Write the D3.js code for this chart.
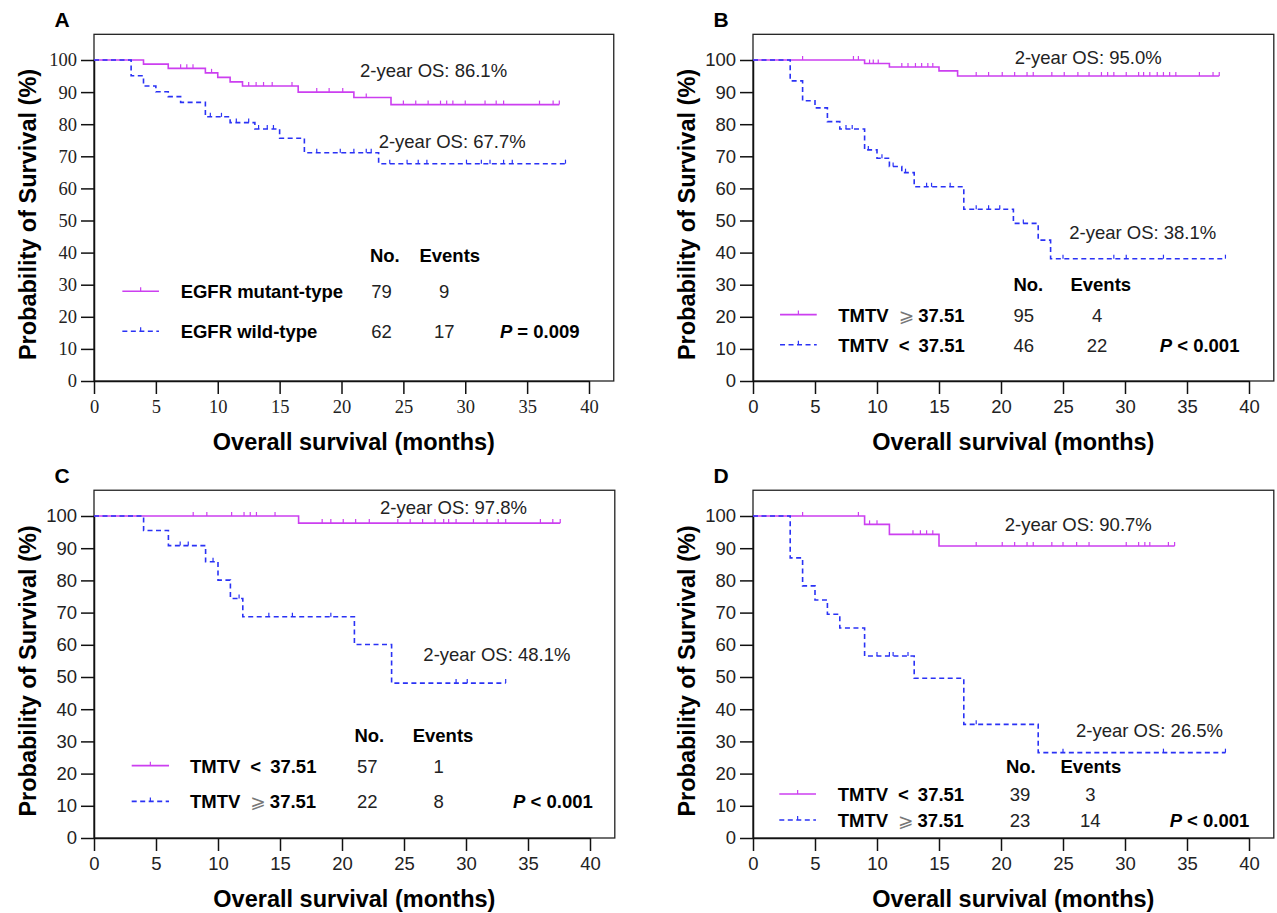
<!DOCTYPE html>
<html lang="en">
<head>
<meta charset="UTF-8">
<title>Overall survival by EGFR status and TMTV</title>
<script src="https://d3js.org/d3.v7.min.js"></script>
<style>
    body {
        margin: 0;
        background: #fff;
        font-family: "Liberation Sans", Arial, sans-serif;
    }
    .axis path, .axis line {
        stroke: #111;
        stroke-width: 1.5px;
    }
    .frame {
        fill: none;
        stroke: #222;
        stroke-width: 1.3px;
    }
</style>
</head>
<body>
<svg id="chart" width="1277" height="913"></svg>
<script>
// axis ticks
const xTicks = [0, 5, 10, 15, 20, 25, 30, 35, 40];
const yTicks = [0, 10, 20, 30, 40, 50, 60, 70, 80, 90, 100];

// Panel A: EGFR mutant-type (magenta) / wild-type (blue)
const aMutTime = [4, 6, 9, 10, 11, 12, 16.5, 21, 24];
const aMutSurv = [98.7, 97.4, 96.0, 94.6, 93.2, 91.9, 90.0, 88.3, 86.1];
const aMutCens = [7, 7.5, 8, 9.5, 12.5, 13.1, 13.7, 14.4, 16, 18, 19, 20.1, 22, 25, 26, 27, 28, 28.5, 29, 30, 31.6, 32.5, 33.1, 36, 37.1, 37.6];
const aWildTime = [3, 4, 5, 6, 7, 9, 11, 13, 15, 17, 23];
const aWildSurv = [95.1, 91.9, 90.1, 88.6, 86.8, 82.3, 80.5, 78.5, 75.6, 71.1, 67.7];
const aWildCens = [9.4, 10.3, 11.5, 12.5, 13.3, 14, 14.5, 18, 19.9, 21, 22, 22.4, 23.9, 25.3, 26.2, 26.9, 30.1, 31.3, 32, 33.1, 33.8, 38.1];

// Panel B: TMTV >= 37.51 (magenta) / < 37.51 (blue)
const bHighTime = [9, 11, 15, 16.5];
const bHighSurv = [98.9, 97.8, 96.6, 95.0];
const bHighCens = [4, 8.1, 8.5, 9.4, 9.7, 10.1, 12, 12.5, 13.1, 13.6, 14.1, 14.5, 18, 19, 20.1, 21.1, 22.1, 22.6, 24.1, 25.1, 26.2, 27.1, 28.1, 28.6, 29.1, 30.1, 31.1, 31.5, 32, 32.6, 33.1, 33.6, 34.1, 36, 37.1, 37.6];
const bLowTime = [3, 4, 5, 6, 7, 9, 10, 11, 12, 13, 17, 21, 23, 24];
const bLowSurv = [93.5, 87.3, 85.1, 80.8, 78.5, 72.0, 69.4, 66.8, 64.9, 60.5, 53.5, 49.1, 43.9, 38.1];
const bLowCens = [7.5, 8, 9.3, 10.4, 11.3, 12.3, 14, 14.4, 15.9, 18, 19, 19.9, 21.8, 25, 29.1, 30.1, 33.1, 38.1];

// Panel C
const cLowTime = [16.5];
const cLowSurv = [97.8];
const cLowCens = [8, 9.1, 11.1, 12.1, 12.6, 13.1, 14.6, 18.4, 19.1, 20.1, 21.1, 22.2, 24.5, 25.5, 26.5, 27.5, 28.2, 28.6, 29.2, 30.6, 31.7, 32.6, 33.2, 36, 37, 37.6];
const cHighTime = [4, 6, 9, 10, 11, 12, 21, 24];
const cHighSurv = [95.5, 90.8, 85.8, 80.1, 74.4, 68.7, 60.1, 48.1];
const cHighCens = [6.95, 7.6, 9.6, 11.7, 14.1, 16, 19.1, 29.2, 30.1, 33.2];

// Panel D
const dLowTime = [9, 11, 15];
const dLowSurv = [97.4, 94.3, 90.7];
const dLowCens = [4, 8.5, 9.4, 10, 12.9, 13.5, 14, 14.5, 18, 20.1, 21.1, 22.1, 22.6, 24.1, 25, 26.1, 27.1, 30.1, 31.1, 31.6, 32, 33.5, 34];
const dHighTime = [3, 4, 5, 6, 7, 9, 13, 17, 23];
const dHighSurv = [87.0, 78.3, 73.9, 69.5, 65.2, 56.5, 49.6, 35.3, 26.5];
const dHighCens = [10, 11, 11.3, 12.5, 18, 25, 33.1, 38.1];

// legend tables
const groupLabels = [["EGFR mutant-type", "EGFR wild-type"], ["TMTV ⩾ 37.51", "TMTV < 37.51"], ["TMTV < 37.51", "TMTV ⩾ 37.51"], ["TMTV < 37.51", "TMTV ⩾ 37.51"]];
const groupN = [[79, 62], [95, 46], [57, 22], [39, 23]];
const groupEvents = [[9, 17], [4, 22], [1, 8], [3, 14]];
const pValues = ["= 0.009", "< 0.001", "< 0.001", "< 0.001"];
const osLabels = [["86.1%", "67.7%"], ["95.0%", "38.1%"], ["97.8%", "48.1%"], ["90.7%", "26.5%"]];
const panelLetters = ["A", "B", "C", "D"];

const colMag = "#cc3ff0";
const colBlue = "#2a32f5";

// layout per panel (pixels for the plot box, data units for annotations)
const panels = [
    { x0: 94, x40: 589, y0: 381, y100: 60, tickFont: "'Liberation Serif', 'Times New Roman', serif",
      curves: [[aMutTime, aMutSurv, aMutCens, 37.6], [aWildTime, aWildSurv, aWildCens, 38.1]],
      os: [[21.5, 94.7], [23.0, 72.5]], headV: 37.2, rowV: [25.8, 13.3],
      lineT: [2.29, 5.25], labelT: 7.0, noT: 22.3, evT: 26.3, nT: 22.4, eT: 28.3, pT: 32.8 },
    { x0: 753, x40: 1249, y0: 381, y100: 60, tickFont: "'Liberation Sans', Arial, sans-serif",
      curves: [[bHighTime, bHighSurv, bHighCens, 37.6], [bLowTime, bLowSurv, bLowCens, 38.1]],
      os: [[21.1, 98.8], [25.5, 44.1]], headV: 28.1, rowV: [18.5, 9.1],
      lineT: [2.18, 5.14], labelT: 6.88, noT: 21.0, evT: 25.6, nT: 21.0, eT: 27.75, pT: 32.8 },
    { x0: 94, x40: 590, y0: 838, y100: 516, tickFont: "'Liberation Sans', Arial, sans-serif",
      curves: [[cLowTime, cLowSurv, cLowCens, 37.6], [cHighTime, cHighSurv, cHighCens, 33.2]],
      os: [[23.06, 100.6], [26.56, 55.0]], headV: 29.9, rowV: [20.3, 9.2],
      lineT: [3.04, 6.05], labelT: 7.74, noT: 21.0, evT: 25.7, nT: 21.2, eT: 27.8, pT: 33.8 },
    { x0: 753, x40: 1249, y0: 838, y100: 516, tickFont: "'Liberation Sans', Arial, sans-serif",
      curves: [[dLowTime, dLowSurv, dLowCens, 34], [dHighTime, dHighSurv, dHighCens, 38.1]],
      os: [[20.3, 95.3], [26.05, 31.3]], headV: 20.3, rowV: [11.5, 3.4],
      lineT: [2.12, 5.08], labelT: 6.83, noT: 20.4, evT: 24.8, nT: 20.7, eT: 27.2, pT: 33.6 }
];

const svg = d3.select("#chart");

function survAt(time, surv, t) {
    let s = 100;
    time.forEach((tt, i) => { if (tt <= t) s = surv[i]; });
    return s;
}

panels.forEach((p, pi) => {
    const x = d3.scaleLinear().domain([0, 40]).range([p.x0, p.x40]);
    const y = d3.scaleLinear().domain([0, 100]).range([p.y0, p.y100]);
    const g = svg.append("g");

    // frame around the plot
    g.append("rect")
     .attr("class", "frame")
     .attr("x", x(0))
     .attr("y", y(108))
     .attr("width", x(42) - x(0))
     .attr("height", y(0) - y(108));

    // axes
    const xAxis = g.append("g")
     .attr("class", "axis")
     .attr("transform", `translate(0,${y(0)})`)
     .call(d3.axisBottom(x).tickValues(xTicks).tickSize(13).tickSizeOuter(0).tickPadding(6));
    const yAxis = g.append("g")
     .attr("class", "axis")
     .attr("transform", `translate(${x(0)},0)`)
     .call(d3.axisLeft(y).tickValues(yTicks).tickSize(13).tickSizeOuter(0).tickPadding(4));
    [xAxis, yAxis].forEach(a => a.selectAll("text")
        .style("font-family", p.tickFont)
        .style("font-size", "18.5px")
        .attr("fill", "#222"));

    // axis titles
    g.append("text")
     .attr("x", x(21))
     .attr("y", y(0) + 69)
     .attr("text-anchor", "middle")
     .style("font-weight", "bold")
     .style("font-size", "23.5px")
     .text("Overall survival (months)");
    g.append("text")
     .attr("transform", `translate(${x(0) - 58},${y(50) - 6}) rotate(-90)`)
     .attr("text-anchor", "middle")
     .style("font-weight", "bold")
     .style("font-size", "23.5px")
     .text("Probability of Survival (%)");

    // panel letter
    g.append("text")
     .attr("x", x(0) - 32)
     .attr("y", y(100) - 33)
     .attr("text-anchor", "middle")
     .style("font-weight", "bold")
     .style("font-size", "21px")
     .text(panelLetters[pi]);

    // survival curves
    const line = d3.line().x(d => x(d[0])).y(d => y(d[1])).curve(d3.curveStepAfter);
    p.curves.forEach((c, ci) => {
        const [time, surv, cens, end] = c;
        const pts = [[0, 100]];
        time.forEach((t, i) => pts.push([t, surv[i]]));
        pts.push([end, surv[surv.length - 1]]);
        const col = ci === 0 ? colMag : colBlue;
        g.append("path")
         .datum(pts)
         .attr("d", line)
         .attr("fill", "none")
         .attr("stroke", col)
         .attr("stroke-width", 1.6)
         .attr("stroke-dasharray", ci === 0 ? null : "5,3.5");
        g.selectAll(null)
         .data(cens)
         .enter()
         .append("line")
         .attr("x1", d => x(d))
         .attr("x2", d => x(d))
         .attr("y1", d => y(survAt(time, surv, d)))
         .attr("y2", d => y(survAt(time, surv, d)) - 4)
         .attr("stroke", col)
         .attr("stroke-width", 1.2);
    });

    // 2-year OS annotations
    osLabels[pi].forEach((s, i) => {
        g.append("text")
         .attr("x", x(p.os[i][0]))
         .attr("y", y(p.os[i][1]))
         .style("font-size", "18.5px")
         .attr("fill", "#222")
         .text("2-year OS: " + s);
    });

    // legend table
    g.append("text").attr("x", x(p.noT)).attr("y", y(p.headV))
     .style("font-size", "18.5px").style("font-weight", "bold").text("No.");
    g.append("text").attr("x", x(p.evT)).attr("y", y(p.headV))
     .style("font-size", "18.5px").style("font-weight", "bold").text("Events");

    groupLabels[pi].forEach((lab, i) => {
        const by = y(p.rowV[i]);
        const col = i === 0 ? colMag : colBlue;
        const ly = by - 7;
        g.append("line")
         .attr("x1", x(p.lineT[0])).attr("x2", x(p.lineT[1]))
         .attr("y1", ly).attr("y2", ly)
         .attr("stroke", col).attr("stroke-width", 1.6)
         .attr("stroke-dasharray", i === 0 ? null : "5,3.5");
        const mx = (x(p.lineT[0]) + x(p.lineT[1])) / 2;
        g.append("line")
         .attr("x1", mx).attr("x2", mx).attr("y1", ly).attr("y2", ly - 4)
         .attr("stroke", col).attr("stroke-width", 1.2);

        const t = g.append("text")
         .attr("x", x(p.labelT)).attr("y", by)
         .style("font-size", "18.5px").style("font-weight", "bold");
        const parts = lab.split(" ");
        if (parts.length === 3) {
            t.append("tspan").text(parts[0]);
            const sym = t.append("tspan").attr("dx", 10).text(parts[1]);
            if (parts[1] === "⩾") {
                sym.style("font-weight", "normal").attr("fill", "#777")
                   .style("font-family", "'DejaVu Sans', sans-serif");
                t.append("tspan").attr("dx", 4).text(parts[2]);
            } else {
                t.append("tspan").attr("dx", 9).text(parts[2]);
            }
        } else {
            t.text(lab);
        }

        g.append("text").attr("x", x(p.nT)).attr("y", by)
         .style("font-size", "18.5px").attr("fill", "#222").text(groupN[pi][i]);
        g.append("text").attr("x", x(p.eT)).attr("y", by)
         .attr("text-anchor", "middle")
         .style("font-size", "18.5px").attr("fill", "#222").text(groupEvents[pi][i]);
    });

    const pt = g.append("text").attr("x", x(p.pT)).attr("y", y(p.rowV[1]))
     .style("font-size", "18.5px").style("font-weight", "bold");
    pt.append("tspan").style("font-style", "italic").text("P");
    pt.append("tspan").text(" " + pValues[pi]);
});
</script>
</body>
</html>
